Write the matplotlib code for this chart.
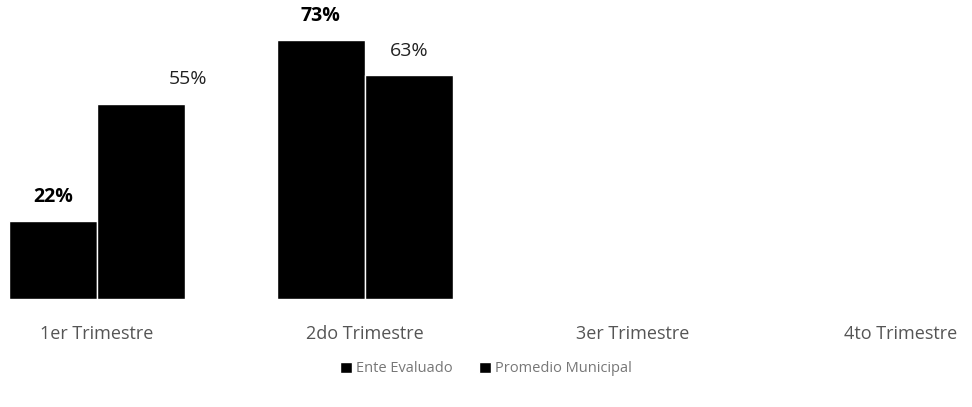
import matplotlib
matplotlib.use("Agg")
import matplotlib.pyplot as plt
import numpy as np

plt.rcParams['font.family'] = ['Open Sans', 'DejaVu Sans']

trimestres = ["1er Trimestre", "2do Trimestre", "3er Trimestre", "4to Trimestre"]
ente_evaluado = [22, 73, None, None]
promedio_municipal = [55, 63, None, None]
series_names = ["Ente Evaluado", "Promedio Municipal"]

fig = plt.figure(figsize=(9.72, 4.07), dpi=100)
ax = fig.add_axes([0, 1 - 299 / 407, 1, 299 / 407])

x = np.arange(len(trimestres))
w = 0.33

def vals(s):
    return [v if v is not None else 0 for v in s]

b1 = ax.bar(x - w / 2, vals(ente_evaluado), w, color="black", edgecolor="white", linewidth=1,
            label=series_names[0])
b2 = ax.bar(x + w / 2, vals(promedio_municipal), w, color="black", edgecolor="white", linewidth=1,
            label=series_names[1])

# etiquetas de datos
for i, v in enumerate(ente_evaluado):
    if v is not None:
        ax.annotate(f"{v}%", (x[i] - w / 2, v), xytext=(0, 17), textcoords="offset points",
                    ha="center", va="center", fontsize=14, fontweight="bold", color="black")
for i, v in enumerate(promedio_municipal):
    if v is not None:
        dx = 34 if i == 0 else 0
        ax.annotate(f"{v}%", (x[i] + w / 2, v), xytext=(dx, 17.5), textcoords="offset points",
                    ha="center", va="center", fontsize=14, color="#222222")

ax.set_xlim(-0.362, 3.265)
ax.set_ylim(0, 84.2)
ax.set_yticks([])
ax.set_xticks(x)
ax.set_xticklabels(trimestres, fontsize=13, color="#555555")
ax.tick_params(axis="x", length=0, pad=19)
for sp in ax.spines.values():
    sp.set_visible(False)

fig.legend(handles=[b1, b2], labels=series_names, loc="center", bbox_to_anchor=(0.5, 1 - 369 / 407),
           ncol=2, frameon=False, fontsize=10.5, labelcolor="#777777", handlelength=0.8,
           handleheight=0.7, handletextpad=0.3, columnspacing=1.8)

fig.savefig("out.png", dpi=100)
